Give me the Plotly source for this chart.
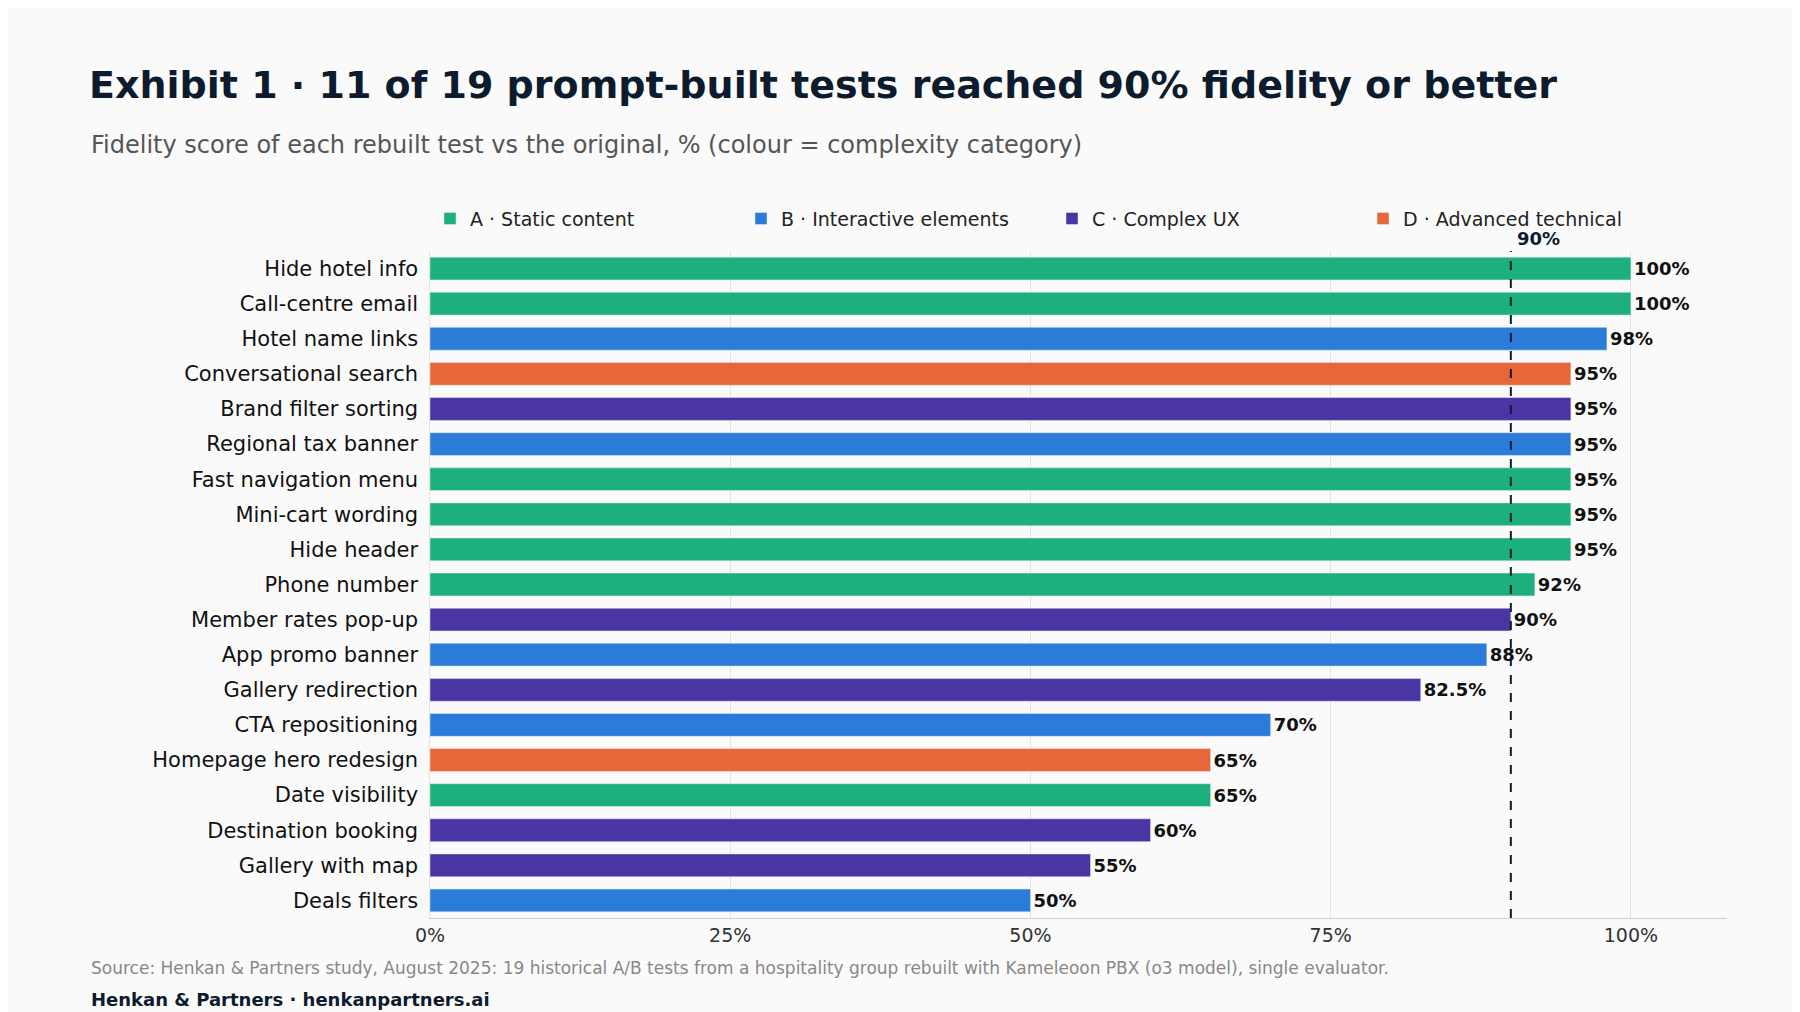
import plotly.graph_objects as go

tests = ["Hide hotel info","Call-centre email","Hotel name links","Conversational search","Brand filter sorting",
         "Regional tax banner","Fast navigation menu","Mini-cart wording","Hide header","Phone number",
         "Member rates pop-up","App promo banner","Gallery redirection","CTA repositioning","Homepage hero redesign",
         "Date visibility","Destination booking","Gallery with map","Deals filters"]
scores = [100,100,98,95,95,95,95,95,95,92,90,88,82.5,70,65,65,60,55,50]
cats = ["A","A","B","D","C","B","A","A","A","A","C","B","C","B","D","A","C","C","B"]
cat_names = {"A":"A · Static content","B":"B · Interactive elements","C":"C · Complex UX","D":"D · Advanced technical"}
colors = {"A":"#1DB07C","B":"#2B7BD9","C":"#4B35A5","D":"#E8673A"}

font = "DejaVu Sans"
fig = go.Figure()
for c in ["A","B","C","D"]:
    ys = [t for t,k in zip(tests,cats) if k==c]
    xs = [s for s,k in zip(scores,cats) if k==c]
    fig.add_trace(go.Bar(x=xs, y=ys, orientation="h", name=cat_names[c], marker_color=colors[c],
                         text=[f"<b>{v:g}%</b>" for v in xs], textposition="outside",
                         textfont=dict(size=18, color="#111"), cliponaxis=False, width=0.65))
fig.add_shape(type="line", x0=90, x1=90, y0=0, y1=1, yref="paper", line=dict(color="#0d1b2e", width=2, dash="dash"))
fig.add_annotation(x=90, y=1, yref="paper", text="<b>90%</b>", showarrow=False, xanchor="left", yanchor="bottom",
                   xshift=4, font=dict(size=18, color="#0d1b2e"))
fig.update_layout(
    width=1800, height=1012, barmode="overlay",
    paper_bgcolor="#FAFAFA", plot_bgcolor="#FAFAFA",
    font=dict(family=font, color="#222"),
    margin=dict(l=422, r=81, t=243, b=102),
    title=dict(text="<b>Exhibit 1 · 11 of 19 prompt-built tests reached 90% fidelity or better</b>",
               x=81/1800, xanchor="left", y=1-77/1012, yanchor="middle", font=dict(size=38, color="#0d1b2e")),
    legend=dict(orientation="h", x=0, xanchor="left", y=1.02, yanchor="bottom", font=dict(size=19, color="#222"),
                entrywidth=266, traceorder="normal"),
    xaxis=dict(range=[0,108], tickvals=[0,25,50,75,100], ticktext=["0%","25%","50%","75%","100%"],
               showgrid=True, gridcolor="#E5E5E0", zeroline=False, tickfont=dict(size=19, color="#333"),
               showline=True, linecolor="#ccc"),
    yaxis=dict(categoryorder="array", categoryarray=tests[::-1], tickfont=dict(size=21, color="#111"),
               ticksuffix=" ", showline=True, linecolor="#E5E5E0"),
    showlegend=True,
)
fig.add_annotation(xref="paper", yref="paper", x=-(422-81)/1297, y=-(960-910)/667, xanchor="left", yanchor="middle",
                   showarrow=False, text="Source: Henkan & Partners study, August 2025: 19 historical A/B tests from a hospitality group rebuilt with Kameleoon PBX (o3 model), single evaluator.",
                   font=dict(size=17, color="#888"))
fig.add_annotation(xref="paper", yref="paper", x=-(422-81)/1297, y=-(991-910)/667, xanchor="left", yanchor="middle",
                   showarrow=False, text="<b>Henkan & Partners · henkanpartners.ai</b>", font=dict(size=18, color="#0d1b2e"))
fig.add_annotation(xref="paper", yref="paper", x=-(422-81)/1297, y=1+(243-137)/667, xanchor="left", yanchor="middle",
                   showarrow=False, text="Fidelity score of each rebuilt test vs the original, % (colour = complexity category)",
                   font=dict(size=24, color="#555"))
fig.write_html("out.html")
